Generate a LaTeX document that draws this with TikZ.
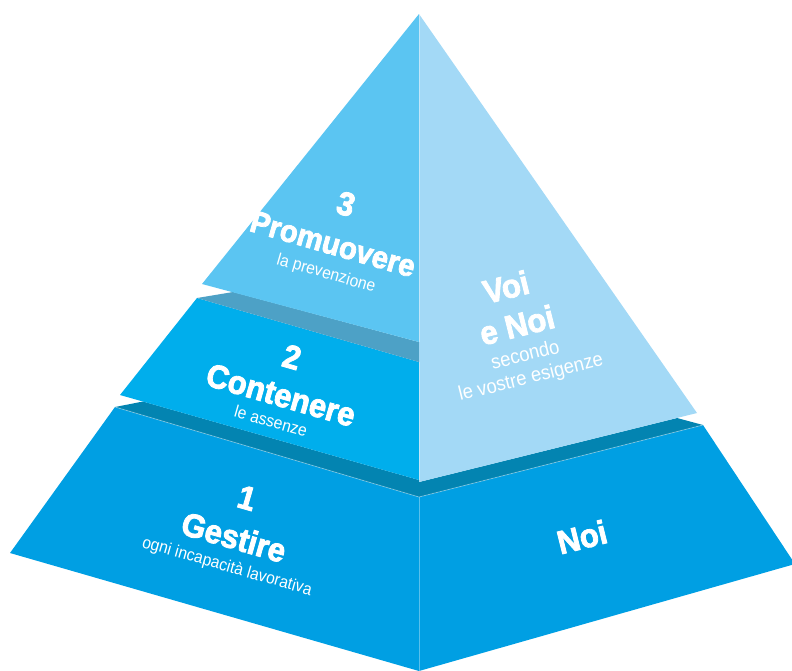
\documentclass[tikz,border=0pt]{standalone}
\usepackage{fontspec}
\setmainfont{Liberation Sans}
\newfontfamily\heavyfont[FakeBold=2.5,FakeStretch=0.94]{Liberation Sans}
\newfontfamily\lightfont[FakeStretch=0.92]{Liberation Sans}
\definecolor{tierthree}{HTML}{5BC5F2}
\definecolor{tiertwo}{HTML}{00AEEC}
\definecolor{tierone}{HTML}{009FE3}
\definecolor{upperright}{HTML}{A3D9F6}
\definecolor{ledgeone}{HTML}{4DA1C6}
\definecolor{ledgetwo}{HTML}{0384B1}

\begin{document}
\begin{tikzpicture}[x=1pt,y=-1pt,
		big/.style={text=white,inner sep=0pt,font=\heavyfont\bfseries\fontsize{33}{33}\selectfont},
		small/.style={text=white,inner sep=0pt,font=\lightfont\fontsize{17}{17}\selectfont},
		leftface/.style={rotate=-16},
		rightface/.style={rotate=14},
		seam/.style={white,opacity=.35,line width=.8pt}]
	\useasboundingbox (0,0) rectangle (792,670);
	\coordinate (apex) at (419,14);
	\coordinate (t3l) at (202,284);
	\coordinate (t3r) at (419,342);
	\coordinate (l1a) at (233,292);
	\coordinate (t2tl) at (197,298);
	\coordinate (t2tr) at (419,362);
	\coordinate (t2bl) at (120,395);
	\coordinate (t2br) at (419,480);
	\coordinate (l2a) at (143,401.5);
	\coordinate (t1tl) at (115,407);
	\coordinate (t1tm) at (419,497);
	\coordinate (t1tr) at (703,425);
	\coordinate (t1bl) at (10,553);
	\coordinate (t1bm) at (419,671);
	\coordinate (t1br) at (795,564);
	\coordinate (urb) at (697,413);
	\coordinate (urm) at (419,482);
	\coordinate (l2b) at (677,418);
	% bottom tier
	\fill[tierone] (t1tl) -- (t1tm) -- (t1bm) -- (t1bl) -- cycle;
	\fill[tierone] (t1tm) -- (t1tr) -- (t1br) -- (t1bm) -- cycle;
	\fill[ledgetwo] (t1tl) -- (l2a) -- (t2br) -- (t1tm) -- cycle;
	\fill[ledgetwo] (urm) -- (l2b) -- (t1tr) -- (t1tm) -- cycle;
	% middle and top
	\fill[tiertwo] (t2tl) -- (t2bl) -- (t2br) -- (t2tr) -- cycle;
	\fill[ledgeone] (t2tl) -- (l1a) -- (t3r) -- (t2tr) -- cycle;
	\fill[tierthree] (apex) -- (t3l) -- (t3r) -- cycle;
	\fill[upperright] (apex) -- (urb) -- (urm) -- cycle;
	\draw[seam] (apex) -- (t3r) (t2tr) -- (t2br) (t1tm) -- (t1bm);
	\draw[seam] (t1tl) -- (t1tm) -- (t1tr);

	\node[big,leftface] (num3) at (346,204) {3};
	\node[big,leftface,font=\heavyfont\bfseries\fontsize{31}{31}\selectfont] (promuovere) at (333,244) {Promuovere};
	\node[small,leftface] (prevenzione) at (326,274) {la prevenzione};
	\node[big,leftface] (num2) at (292,357) {2};
	\node[big,leftface] (contenere) at (281,395) {Contenere};
	\node[small,leftface] (assenze) at (271,421) {le assenze};
	\node[big,leftface] (num1) at (247,498) {1};
	\node[big,leftface] (gestire) at (234,537) {Gestire};
	\node[small,leftface] (incapacita) at (227,567) {ogni incapacità lavorativa};
	\node[big,rightface] (voi) at (506,287) {Voi};
	\node[big,rightface] (enoi) at (517,325) {e Noi};
	\node[small,rightface,font=\lightfont\fontsize{20}{20}\selectfont] (secondo) at (525,354) {secondo};
	\node[small,rightface,font=\lightfont\fontsize{20}{20}\selectfont] (esigenze) at (531,378) {le vostre esigenze};
	\node[big,rightface] (noi) at (582,537) {Noi};
\end{tikzpicture}
\end{document}
